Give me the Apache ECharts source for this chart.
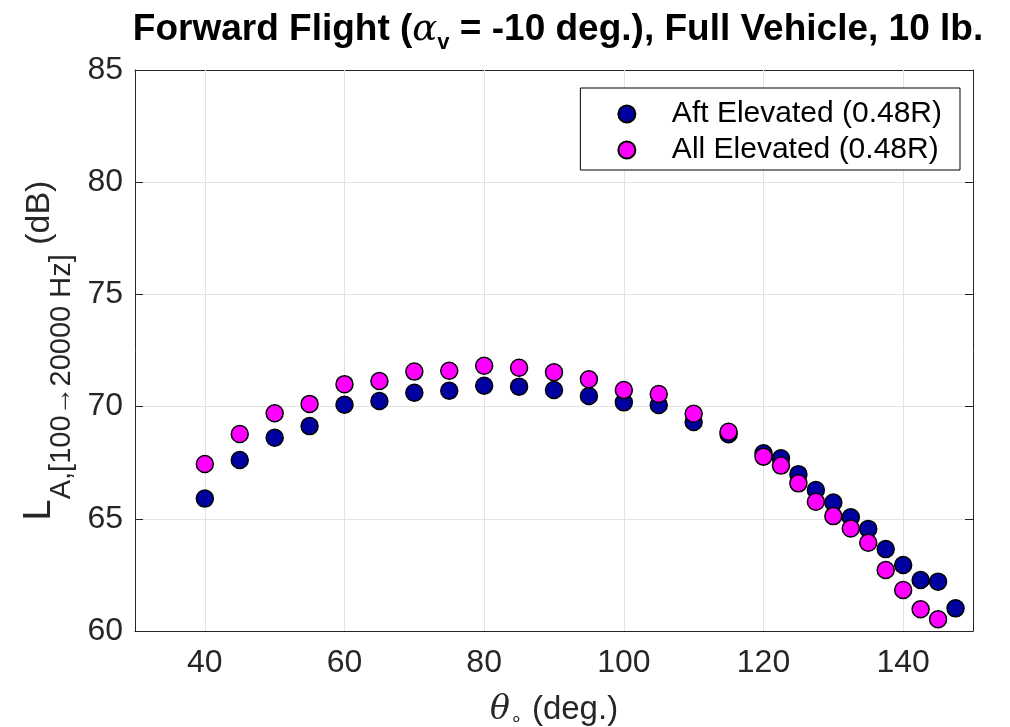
<!DOCTYPE html>
<html>
<head>
<meta charset="utf-8">
<script src="https://cdn.jsdelivr.net/npm/echarts@6/dist/echarts.min.js"></script>
<style>
  html, body { margin: 0; padding: 0; background: #fff; }
  #main { width: 1010px; height: 727px; }
</style>
</head>
<body>
<div id="main"></div>
<script>
// 数据
var theta = [40, 45, 50, 55, 60, 65, 70, 75, 80, 85, 90, 95, 100, 105, 110, 115,
  120, 122.5, 125, 127.5, 130, 132.5, 135, 137.5, 140, 142.5, 145, 147.5];
var aftElevated = [65.9, 67.62, 68.61, 69.13, 70.08, 70.25, 70.62, 70.71, 70.93, 70.89, 70.74, 70.47, 70.19, 70.07, 69.31, 68.77,
  67.92, 67.7, 66.99, 66.28, 65.73, 65.07, 64.55, 63.65, 62.94, 62.27, 62.2, 61.01];
var allElevated = [67.44, 68.78, 69.7, 70.12, 71.0, 71.14, 71.56, 71.6, 71.82, 71.73, 71.53, 71.22, 70.74, 70.56, 69.68, 68.88,
  67.77, 67.37, 66.58, 65.76, 65.12, 64.57, 63.93, 62.72, 61.83, 60.97, 60.52];
var xTicks = [40, 60, 80, 100, 120, 140];
var seriesNames = ['Aft Elevated (0.48R)', 'All Elevated (0.48R)'];

function pairs(xs, ys) {
  var d = [];
  for (var i = 0; i < ys.length; i++) d.push([xs[i], ys[i]]);
  return d;
}

var myChart = echarts.init(document.getElementById('main'));

var font = 'Liberation Sans, Arial, Helvetica, sans-serif';
var axisColor = '#262626';
var gridColor = '#e3e3e3';

var option = {
  backgroundColor: '#ffffff',
  animation: false,
  textStyle: { fontFamily: font },
  title: {
    left: 553,
    top: 1,
    textAlign: 'center',
    text: '{b|Forward Flight (}{a|α}{s|v}{b| = -10 deg.), Full Vehicle, 10 lb.}',
    textStyle: {
      rich: {
        b: { fontSize: 37, fontWeight: 'bold', color: '#000', fontFamily: font, lineHeight: 48, verticalAlign: 'middle' },
        a: { fontSize: 37, fontStyle: 'italic', fontWeight: 'normal', color: '#000', fontFamily: 'DejaVu Serif', lineHeight: 48, verticalAlign: 'middle' },
        s: { fontSize: 22, fontWeight: 'bold', color: '#000', fontFamily: font, lineHeight: 16, verticalAlign: 'bottom' }
      }
    }
  },
  //图例
  legend: {
    orient: 'vertical',
    right: 50,
    top: 88,
    padding: [11, 18, 5, 37],
    itemGap: 6,
    itemWidth: 80,
    itemHeight: 17,
    borderColor: '#000',
    borderWidth: 1,
    backgroundColor: '#fff',
    z: 10,
    textStyle: { fontSize: 30, color: '#000', fontFamily: font },
    data: [{ name: seriesNames[0], icon: 'circle' }, { name: seriesNames[1], icon: 'circle' }]
  },
  grid: {
    left: 135,
    right: 37,
    top: 70,
    bottom: 96,
    containLabel: false,
    outerBoundsMode: 'none'
  },
  xAxis: [{
    type: 'value',
    min: 30,
    max: 150,
    interval: 10,
    position: 'bottom',
    name: '{t|θ}{o|∘}{n| (deg.)}',
    nameLocation: 'middle',
    nameGap: 59,
    nameTextStyle: {
      rich: {
        t: { fontSize: 33, fontStyle: 'italic', fontFamily: 'DejaVu Serif', color: axisColor, lineHeight: 40, verticalAlign: 'middle' },
        o: { fontSize: 20, color: axisColor, lineHeight: 14, verticalAlign: 'bottom' },
        n: { fontSize: 33, color: axisColor, fontFamily: font, lineHeight: 40, verticalAlign: 'middle' }
      }
    },
    axisLine: { show: true, onZero: false, lineStyle: { color: axisColor, width: 1 } },
    axisTick: { show: true, inside: true, length: 8, customValues: xTicks, lineStyle: { color: axisColor } },
    axisLabel: { fontSize: 32, color: axisColor, margin: 16, customValues: xTicks },
    splitLine: { show: false }
  }, {
    type: 'value',
    min: 30,
    max: 150,
    interval: 10,
    position: 'top',
    axisLine: { show: true, onZero: false, lineStyle: { color: axisColor, width: 1 } },
    axisTick: { show: true, inside: true, length: 8, customValues: xTicks, lineStyle: { color: axisColor } },
    axisLabel: { show: false },
    splitLine: { show: false }
  }],
  yAxis: [{
    type: 'value',
    min: 60,
    max: 85,
    interval: 5,
    position: 'left',
    name: '{L|L}{sub|A,[100→20000 Hz]}{n| (dB)}',
    nameLocation: 'middle',
    nameRotate: 90,
    nameGap: 59,
    nameTextStyle: {
      rich: {
        L: { fontSize: 38, color: axisColor, fontFamily: font, lineHeight: 72, verticalAlign: 'middle' },
        sub: { fontSize: 29, color: axisColor, fontFamily: font, lineHeight: 30, verticalAlign: 'bottom' },
        n: { fontSize: 34, color: axisColor, fontFamily: font, lineHeight: 72, verticalAlign: 'middle' }
      }
    },
    axisLine: { show: true, onZero: false, lineStyle: { color: axisColor, width: 1 } },
    axisTick: { show: true, inside: true, length: 8, lineStyle: { color: axisColor } },
    axisLabel: { fontSize: 32, color: axisColor, margin: 12 },
    splitLine: { show: true, lineStyle: { color: gridColor, width: 1 } }
  }, {
    type: 'value',
    min: 60,
    max: 85,
    interval: 5,
    position: 'right',
    axisLine: { show: true, onZero: false, lineStyle: { color: axisColor, width: 1 } },
    axisTick: { show: true, inside: true, length: 8, lineStyle: { color: axisColor } },
    axisLabel: { show: false },
    splitLine: { show: false }
  }],
  series: [{
    //竖向网格线
    name: 'grid',
    type: 'line',
    data: [],
    z: 1,
    silent: true,
    markLine: {
      silent: true,
      z: 1,
      symbol: ['none', 'none'],
      label: { show: false },
      lineStyle: { color: gridColor, width: 1, type: 'solid' },
      data: xTicks.map(function (v) { return { xAxis: v }; })
    }
  }, {
    name: seriesNames[0],
    type: 'scatter',
    z: 3,
    symbol: 'circle',
    symbolSize: 17,
    itemStyle: { color: '#0000a0', borderColor: '#000', borderWidth: 1.5, opacity: 1 },
    data: pairs(theta, aftElevated)
  }, {
    name: seriesNames[1],
    type: 'scatter',
    z: 4,
    symbol: 'circle',
    symbolSize: 17,
    itemStyle: { color: '#ff00ff', borderColor: '#000', borderWidth: 1.5, opacity: 1 },
    data: pairs(theta, allElevated)
  }]
};

myChart.setOption(option);
</script>
</body>
</html>
